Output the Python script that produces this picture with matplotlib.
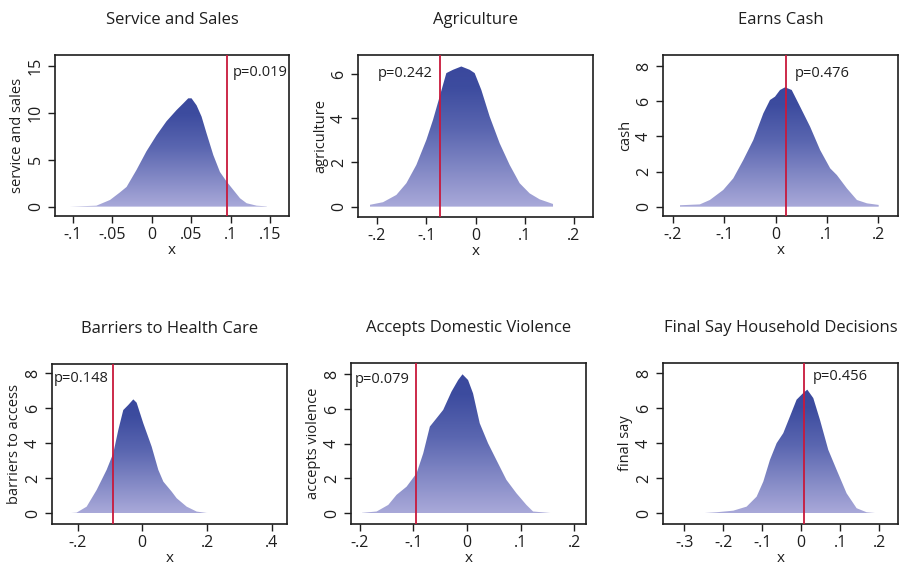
import numpy as np
import matplotlib
matplotlib.use("Agg")
import matplotlib.pyplot as plt
from matplotlib.colors import LinearSegmentedColormap

plt.rcParams['font.family'] = ['Open Sans', 'DejaVu Sans']

titles = ["Service and Sales", "Agriculture", "Earns Cash",
          "Barriers to Health Care", "Accepts Domestic Violence", "Final Say Household Decisions"]
ylabels = ["service and sales", "agriculture", "cash",
           "barriers to access", "accepts violence", "final say"]
pvals = ["p=0.019", "p=0.242", "p=0.476", "p=0.148", "p=0.079", "p=0.456"]
obs = [0.0958, -0.0727, 0.0206, -0.0918, -0.0961, 0.0077]

x1 = [-0.104, -0.0703, -0.053, -0.0407, -0.032, -0.0195, -0.0068, 0.0059, 0.0186, 0.0314, 0.0398, 0.0462,
      0.0504, 0.0568, 0.0631, 0.0695, 0.078, 0.0864, 0.0949, 0.1034, 0.1119, 0.1203, 0.133, 0.1458]
y1 = [0.0, 0.1, 0.71, 1.5, 2.1, 3.9, 5.9, 7.6, 9.1, 10.3, 11.0, 11.55,
      11.55, 10.8, 9.6, 7.8, 5.5, 3.7, 2.67, 1.78, 0.89, 0.36, 0.1, 0.03]

x2 = [-0.2149, -0.1878, -0.1607, -0.1404, -0.1201, -0.0998, -0.0863, -0.0727, -0.0592, -0.0457, -0.0288,
      -0.0118, -0.0017, 0.0118, 0.0288, 0.0491, 0.0694, 0.0897, 0.11, 0.1303, 0.1574]
y2 = [0.08, 0.2, 0.53, 1.06, 1.89, 3.02, 3.93, 4.99, 6.05, 6.2, 6.35,
      6.2, 6.05, 5.29, 4.08, 2.87, 1.89, 1.06, 0.6, 0.33, 0.12]

x3 = [-0.187, -0.1478, -0.1282, -0.1021, -0.0825, -0.063, -0.0434, -0.0238, -0.0108, -0.001, 0.0088, 0.0186,
      0.0316, 0.048, 0.0675, 0.0871, 0.1067, 0.1197, 0.1393, 0.1589, 0.1785, 0.2013]
y3 = [0.08, 0.13, 0.38, 0.95, 1.61, 2.65, 3.79, 5.31, 6.07, 6.26, 6.64, 6.79,
      6.64, 5.69, 4.55, 3.22, 2.18, 1.8, 1.04, 0.38, 0.19, 0.1]

x4 = [-0.234, -0.203, -0.172, -0.1412, -0.1103, -0.0897, -0.0742, -0.0588, -0.0433, -0.0278, -0.0175,
      0.0031, 0.0289, 0.0495, 0.065, 0.0907, 0.1062, 0.1371, 0.168, 0.199, 0.25]
y4 = [0.0, 0.04, 0.38, 1.33, 2.48, 3.43, 4.76, 5.9, 6.19, 6.51, 6.32,
      5.14, 3.81, 2.48, 1.81, 1.24, 0.86, 0.38, 0.1, 0.02, 0.0]

x5 = [-0.1969, -0.1689, -0.1471, -0.1316, -0.1129, -0.0942, -0.0818, -0.0694, -0.0569, -0.0445, -0.029,
      -0.0165, -0.0084, 0.002, 0.0113, 0.0238, 0.0393, 0.0549, 0.0737, 0.0924, 0.111, 0.1235, 0.1608]
y5 = [0.02, 0.1, 0.48, 1.06, 1.53, 2.3, 3.45, 4.99, 5.47, 5.95, 7.0,
      7.67, 8.0, 7.67, 6.9, 5.18, 4.03, 3.07, 1.92, 1.15, 0.48, 0.1, 0.0]

x6 = [-0.3197, -0.2598, -0.2171, -0.1744, -0.1402, -0.1145, -0.0974, -0.0803, -0.0632, -0.0462, -0.0291,
      -0.012, 0.0051, 0.0154, 0.0308, 0.0479, 0.0692, 0.0906, 0.1162, 0.1419, 0.1675, 0.1974]
y6 = [0.0, 0.0, 0.06, 0.15, 0.38, 0.95, 1.81, 3.05, 4.0, 4.57, 5.52,
      6.48, 6.86, 7.05, 6.57, 5.33, 3.62, 2.48, 1.14, 0.29, 0.06, 0.0]

xs = [x1, x2, x3, x4, x5, x6]
ys = [y1, y2, y3, y4, y5, y6]

xticks = [[-0.1, -0.05, 0, 0.05, 0.1, 0.15], [-0.2, -0.1, 0, 0.1, 0.2], [-0.2, -0.1, 0, 0.1, 0.2],
          [-0.2, 0, 0.2, 0.4], [-0.2, -0.1, 0, 0.1, 0.2], [-0.3, -0.2, -0.1, 0, 0.1, 0.2]]
xticklabels = [["-.1", "-.05", "0", ".05", ".1", ".15"], ["-.2", "-.1", "0", ".1", ".2"],
               ["-.2", "-.1", "0", ".1", ".2"], ["-.2", "0", ".2", ".4"],
               ["-.2", "-.1", "0", ".1", ".2"], ["-.3", "-.2", "-.1", "0", ".1", ".2"]]
yticks = [[0, 5, 10, 15], [0, 2, 4, 6], [0, 2, 4, 6, 8], [0, 2, 4, 6, 8], [0, 2, 4, 6, 8], [0, 2, 4, 6, 8]]

xlims = [(-0.1228, 0.174), (-0.2386, 0.2386), (-0.2196, 0.239), (-0.279, 0.447), (-0.2168, 0.2224), (-0.3546, 0.248)]
ylims = [(-1.0, 16.17), (-0.47, 6.87), (-0.53, 8.63), (-0.61, 8.53), (-0.62, 8.65), (-0.61, 8.57)]

# text placement: side of line ('r' right of line, 'l' left of line)
pside = ['r', 'l', 'r', 'l', 'l', 'r']
ptexty = [14.3, 6.05, 7.6, 7.7, 7.7, 7.8]
poff = [4, 5, 6, 3, 4, 6]  # offset from line in points

# axes boxes in pixels: left, top, right, bottom
boxes = [(55, 55, 289, 216), (358, 55, 593, 217), (663, 55, 898, 216),
         (52, 364, 287, 524), (351, 363, 586, 524), (663, 363, 898, 524)]

W, H = 900, 567
fig = plt.figure(figsize=(9, 5.67), dpi=100)

cmap = LinearSegmentedColormap.from_list("g", [(0.0, "#a9a9d9"), (0.55, "#5a66b0"), (0.85, "#3d4c9f"), (1.0, "#3a489d")])
red = "#c8193c"
tc = '#1e1e1e'

for i in range(6):
    l, t, r, b = boxes[i]
    ax = fig.add_axes([l / W, 1 - b / H, (r - l) / W, (b - t) / H])
    x = np.array(xs[i]); y = np.array(ys[i])
    poly = ax.fill_between(x, 0, y, facecolor='none', edgecolor='none')
    ymax = y.max()
    grad = np.linspace(0, 1, 256).reshape(-1, 1)
    im = ax.imshow(grad, cmap=cmap, origin='lower', aspect='auto',
                   extent=[x.min(), x.max(), 0, ymax], zorder=1, interpolation='bilinear')
    path = poly.get_paths()[0]
    im.set_clip_path(path, transform=ax.transData)
    ax.axvline(obs[i], color=red, lw=1.3, zorder=3)
    if pside[i] == 'r':
        ax.annotate(pvals[i], (obs[i], ptexty[i]), xytext=(poff[i], 0), textcoords='offset points',
                    ha='left', va='center', fontsize=10.5, color=tc)
    else:
        ax.annotate(pvals[i], (obs[i], ptexty[i]), xytext=(-poff[i], 0), textcoords='offset points',
                    ha='right', va='center', fontsize=10.5, color=tc)
    ax.set_xlim(*xlims[i]); ax.set_ylim(*ylims[i])
    ax.set_xticks(xticks[i]); ax.set_xticklabels(xticklabels[i])
    ax.set_yticks(yticks[i])
    ax.set_yticklabels([str(v) for v in yticks[i]], rotation=90, va='center')
    ax.tick_params(direction='out', length=5, width=1, labelsize=11.5, colors=tc, pad=3)
    for s in ax.spines.values():
        s.set_linewidth(1.2)
        s.set_color(tc)
    ax.set_xlabel("x", fontsize=11, labelpad=0, color=tc)
    ax.set_ylabel(ylabels[i], fontsize=10.5, labelpad=2, color=tc)
    ax.set_title(titles[i], fontsize=12, pad=22, color=tc)

fig.savefig("out.png", dpi=100)
